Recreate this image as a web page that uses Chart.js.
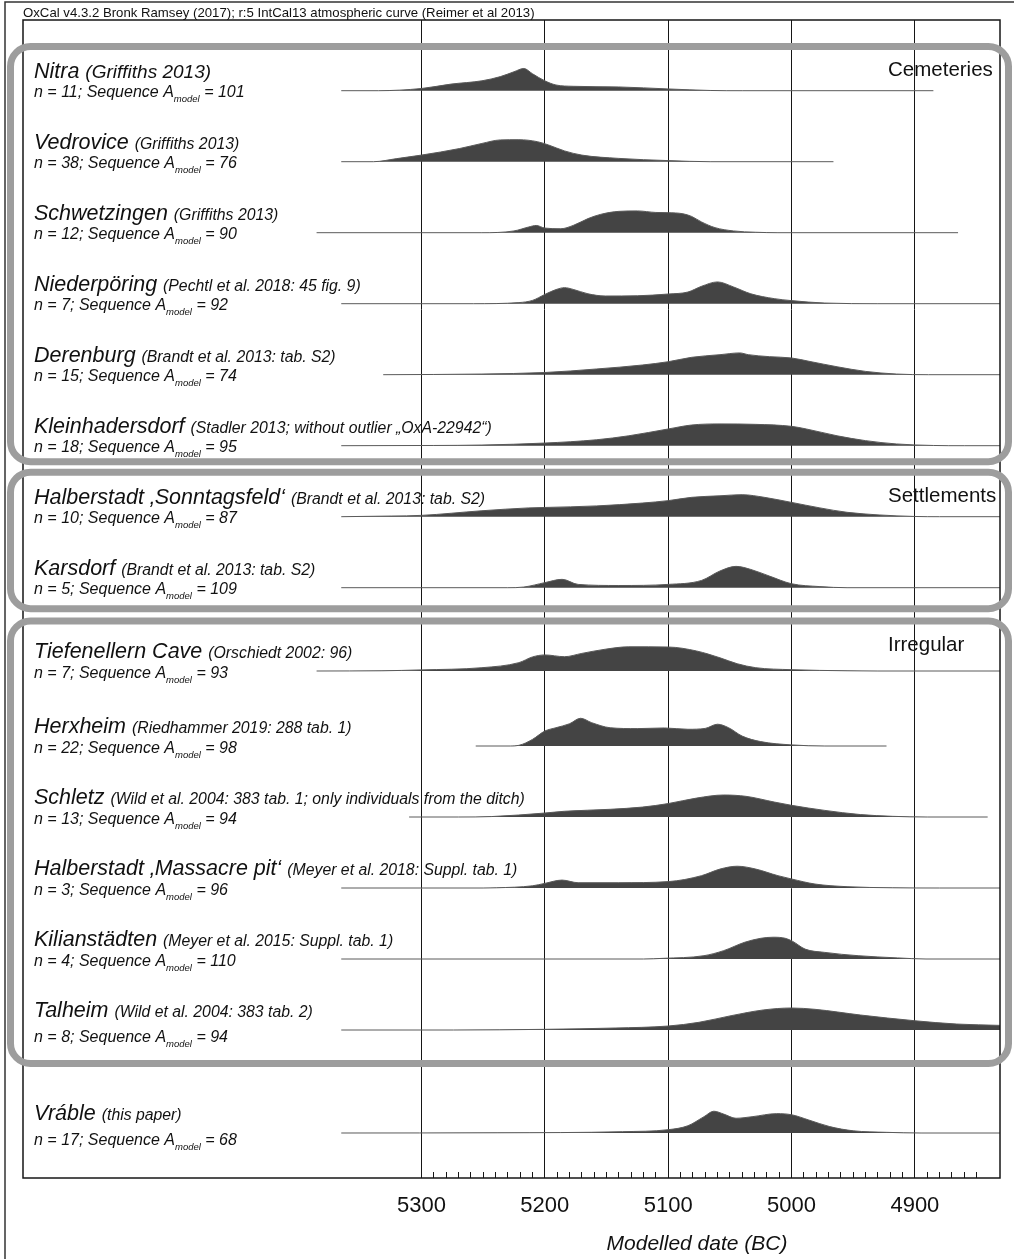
<!DOCTYPE html>
<html>
<head>
<meta charset="utf-8">
<title>Modelled dates (OxCal)</title>
<script src="https://cdn.jsdelivr.net/npm/chart.js@4.4.6/dist/chart.umd.min.js"></script>
<style>
  html, body { margin: 0; padding: 0; background: #fff; }
  #wrap { width: 1014px; height: 1259px; }
</style>
</head>
<body>
<div id="wrap"><canvas id="chart-oxcal" width="1014" height="1259"></canvas></div>
<script>
// OxCal-style stack of modelled date distributions, one band per site.

const FONT = 'Arial, "Liberation Sans", Helvetica, sans-serif';

// ============ data ============
const headerText = "OxCal v4.3.2 Bronk Ramsey (2017); r:5 IntCal13 atmospheric curve (Reimer et al 2013)";
const xAxisTitle = "Modelled date (BC)";
const tickYears = [5300, 5200, 5100, 5000, 4900];

const siteNames = [
  "Nitra", "Vedrovice", "Schwetzingen", "Niederpöring", "Derenburg", "Kleinhadersdorf",
  "Halberstadt ‚Sonntagsfeld‘", "Karsdorf",
  "Tiefenellern Cave", "Herxheim", "Schletz", "Halberstadt ‚Massacre pit‘", "Kilianstädten", "Talheim",
  "Vráble",
];
const siteRefs = [
  "(Griffiths 2013)", "(Griffiths 2013)", "(Griffiths 2013)", "(Pechtl et al. 2018: 45 fig. 9)",
  "(Brandt et al. 2013: tab. S2)", "(Stadler 2013; without outlier „OxA-22942“)",
  "(Brandt et al. 2013: tab. S2)", "(Brandt et al. 2013: tab. S2)",
  "(Orschiedt 2002: 96)", "(Riedhammer 2019: 288 tab. 1)",
  "(Wild et al. 2004: 383 tab. 1; only individuals from the ditch)",
  "(Meyer et al. 2018: Suppl. tab. 1)", "(Meyer et al. 2015: Suppl. tab. 1)",
  "(Wild et al. 2004: 383 tab. 2)", "(this paper)",
];
const siteN = [11, 38, 12, 7, 15, 18, 10, 5, 7, 22, 13, 3, 4, 8, 17];
const siteAmodel = [101, 76, 90, 92, 74, 95, 87, 109, 93, 98, 94, 96, 110, 94, 68];

const groupLabels = ["Cemeteries", "Settlements", "Irregular"];
const groupFirst = [0, 6, 8];
const groupLast = [5, 7, 13];

// [year BC, relative probability]
const nitra = [[5365,0],[5335,0],[5300,10],[5276,30],[5251,45],[5236,64],[5225,86],[5217,101],[5210,77],[5200,45],[5191,26],[5177,20],[5140,17],[5100,8],[5066,1],[5040,0],[4885,0]];
const vedrovice = [[5365,0],[5339,0],[5320,14],[5300,30],[5269,60],[5251,83],[5236,99],[5221,100],[5206,91],[5197,76],[5184,49],[5170,30],[5140,15],[5100,5],[5066,0],[4966,0]];
const schwetzingen = [[5385,0],[5251,0],[5225,8],[5213,26],[5207,33],[5200,21],[5187,18],[5177,33],[5165,64],[5155,83],[5140,97],[5125,99],[5110,92],[5100,91],[5088,86],[5081,74],[5073,49],[5062,23],[5047,8],[5029,2],[5011,0],[4865,0]];
const niederporing = [[5365,0],[5258,0],[5221,5],[5210,15],[5200,42],[5191,64],[5184,73],[5177,65],[5165,45],[5151,35],[5125,36],[5100,44],[5084,53],[5073,79],[5060,99],[5047,76],[5033,45],[5014,23],[5000,14],[4973,3],[4930,0],[4831,0]];
const derenburg = [[5331,0],[5290,1],[5251,3],[5200,10],[5158,26],[5121,44],[5100,59],[5081,79],[5058,91],[5042,99],[5035,91],[5018,82],[5000,76],[4985,60],[4963,36],[4940,15],[4915,3],[4889,0],[4831,0]];
const kleinhadersdorf = [[5365,0],[5290,1],[5251,3],[5200,12],[5158,27],[5132,45],[5100,76],[5081,94],[5058,99],[5029,97],[5000,88],[4988,76],[4963,45],[4940,23],[4915,8],[4885,1],[4860,0],[4831,0]];
const halberstadtSonntagsfeld = [[5365,0],[5324,3],[5300,6],[5251,27],[5213,40],[5200,42],[5158,49],[5121,62],[5100,73],[5081,88],[5058,95],[5040,100],[5022,88],[5000,65],[4977,40],[4955,20],[4929,8],[4900,1],[4880,0],[4831,0]];
const karsdorf = [[5365,0],[5230,0],[5217,3],[5200,23],[5186,38],[5173,15],[5140,10],[5100,15],[5073,33],[5058,76],[5045,97],[5033,83],[5018,53],[5000,18],[4977,5],[4955,0],[4831,0]];
const tiefenellern = [[5385,0],[5332,1],[5300,5],[5251,15],[5221,38],[5210,64],[5200,73],[5184,65],[5170,80],[5151,99],[5132,110],[5100,109],[5077,91],[5058,60],[5044,33],[5029,15],[5000,6],[4955,1],[4930,0],[4831,0]];
const herxheim = [[5256,0],[5228,0],[5221,3],[5210,30],[5200,68],[5191,83],[5180,101],[5171,126],[5162,106],[5147,83],[5125,79],[5103,82],[5084,76],[5070,80],[5060,99],[5051,83],[5040,45],[5025,20],[5000,5],[4973,0],[4923,0]];
const schletz = [[5310,0],[5270,0],[5243,2],[5200,18],[5184,26],[5147,35],[5121,45],[5100,61],[5077,86],[5055,100],[5037,94],[5014,68],[5000,53],[4973,30],[4944,11],[4918,3],[4890,0],[4841,0]];
const halberstadtMassacre = [[5365,0],[5250,0],[5239,1],[5210,10],[5200,21],[5186,36],[5173,24],[5140,24],[5100,29],[5073,56],[5058,86],[5044,99],[5029,86],[5011,56],[5000,41],[4981,18],[4955,6],[4918,1],[4880,0],[4831,0]];
const kilianstadten = [[5365,0],[5120,0],[5104,3],[5071,15],[5055,38],[5038,76],[5025,94],[5015,99],[5005,94],[4999,80],[4989,45],[4973,30],[4946,15],[4914,5],[4891,0],[4831,0]];
const talheim = [[5365,0],[5274,0],[5200,3],[5143,9],[5100,18],[5075,35],[5049,65],[5023,91],[5000,100],[4981,94],[4944,68],[4900,42],[4866,27],[4831,21]];
const vrable = [[5365,0],[5238,1],[5137,6],[5100,15],[5084,33],[5071,74],[5063,99],[5055,86],[5045,67],[5032,74],[5012,88],[5000,83],[4986,59],[4969,29],[4950,10],[4923,3],[4895,0],[4831,0]];

const siteCurves = [
  nitra, vedrovice, schwetzingen, niederporing, derenburg, kleinhadersdorf,
  halberstadtSonntagsfeld, karsdorf,
  tiefenellern, herxheim, schletz, halberstadtMassacre, kilianstadten, talheim,
  vrable,
];

// ============ layout (px) ============
const DATE_MIN = 4831, DATE_MAX = 5623;
const ROW_H = [71, 71, 71, 71, 71, 71, 71, 71, 71, 75, 71, 71, 71, 71, 71];
const GAP_BEFORE = [10.7, 0, 0, 0, 0, 0, 0, 0, 12.3, 0, 0, 0, 0, 0, 32];
const GAP_END = 34;
const BASE_BELOW = 11;      // px under each baseline inside its band
const PX_PER_UNIT = 0.22;   // 100 units of probability ~ 22 px
const LINE2_DY = [6, 6, 6, 6, 6, 6, 6, 6, 7, 7, 7, 7, 7, 12, 12];
const REF_SIZE = [19, 15.8, 15.8, 15.8, 15.8, 15.8, 15.8, 15.8, 15.8, 15.8, 15.8, 15.8, 15.8, 15.8, 15.8];
const GROUP_PAD_TOP = [44.2, 44.5, 50];
const GROUP_PAD_BOTTOM = [16, 21, 33.5];

// stacked band scales, top to bottom
const bands = [];
siteNames.forEach((_, i) => {
  if (GAP_BEFORE[i]) bands.push({ id: `gap${i}`, h: GAP_BEFORE[i] });
  bands.push({ id: `row${i}`, h: ROW_H[i], row: true });
});
bands.push({ id: "gapEnd", h: GAP_END });

const scales = {
  x: {
    type: "linear",
    position: "bottom",
    reverse: true,
    min: DATE_MIN,
    max: DATE_MAX,
    afterFit: s => { s.height = 81; },
    border: { display: false },
    grid: {
      color: c => tickYears.includes(Math.round(c.tick.value)) ? "#161616" : "rgba(0,0,0,0)",
      tickColor: c => {
        const v = Math.round(c.tick.value);
        return v <= 5300 && v % 10 === 0 ? "#161616" : "rgba(0,0,0,0)";
      },
      lineWidth: 1,
      tickLength: -6,
      tickWidth: 1,
    },
    ticks: {
      stepSize: 10,
      autoSkip: false,
      maxRotation: 0,
      minRotation: 0,
      padding: 14,
      color: "#111",
      font: { family: FONT, size: 22, lineHeight: 1.85 },
      callback: v => tickYears.includes(Math.round(v)) ? String(Math.round(v)) : "",
    },
  },
};
bands.forEach((b, k) => {
  scales[b.id] = {
    type: "linear",
    position: "left",
    display: false,
    stack: "rows",
    stackWeight: b.h,
    weight: bands.length - k,
    min: b.row ? -BASE_BELOW / PX_PER_UNIT : 0,
    max: b.row ? (b.h - BASE_BELOW) / PX_PER_UNIT : 1,
  };
});

const datasets = siteCurves.map((curve, i) => ({
  label: siteNames[i],
  data: curve,
  xAxisID: "x",
  yAxisID: `row${i}`,
  fill: "origin",
  backgroundColor: "#444444",
  borderColor: "#5a5a5a",
  borderWidth: 1,
  pointRadius: 0,
  cubicInterpolationMode: "monotone",
}));

// ============ helpers ============
function baseline(chart, i) {
  return chart.scales[`row${i}`].getPixelForValue(0);
}

function roundRect(ctx, x, y, w, h, r) {
  ctx.beginPath();
  ctx.moveTo(x + r, y);
  ctx.arcTo(x + w, y, x + w, y + h, r);
  ctx.arcTo(x + w, y + h, x, y + h, r);
  ctx.arcTo(x, y + h, x, y, r);
  ctx.arcTo(x, y, x + w, y, r);
  ctx.closePath();
}

const decor = {
  id: "decor",
  beforeDraw(chart) {
    const { ctx, width, height } = chart;
    ctx.save();
    ctx.fillStyle = "#fff";
    ctx.fillRect(0, 0, width, height);

    // outer frame (left + top)
    ctx.strokeStyle = "#333";
    ctx.lineWidth = 1.5;
    ctx.beginPath();
    ctx.moveTo(5, height);
    ctx.lineTo(5, 2);
    ctx.lineTo(width, 2);
    ctx.stroke();

    ctx.fillStyle = "#111";
    ctx.textAlign = "left";
    ctx.textBaseline = "alphabetic";
    ctx.font = `13.2px ${FONT}`;
    ctx.fillText(headerText, 23, 17);

    // row labels
    siteNames.forEach((name, i) => {
      const y = baseline(chart, i);
      let x = 34;
      ctx.font = `italic 21.5px ${FONT}`;
      ctx.fillText(name + " ", x, y - 13);
      x += ctx.measureText(name + " ").width;
      ctx.font = `italic ${REF_SIZE[i]}px ${FONT}`;
      ctx.fillText(siteRefs[i], x, y - 13);

      const y2 = y + LINE2_DY[i];
      x = 34;
      ctx.font = `italic 16px ${FONT}`;
      const a = `n = ${siteN[i]}; Sequence A`;
      ctx.fillText(a, x, y2);
      x += ctx.measureText(a).width;
      ctx.font = `italic 9.5px ${FONT}`;
      ctx.fillText("model", x, y2 + 5);
      x += ctx.measureText("model").width;
      ctx.font = `italic 16px ${FONT}`;
      ctx.fillText(` = ${siteAmodel[i]}`, x, y2);
    });

    // group labels
    ctx.font = `20.5px ${FONT}`;
    groupLabels.forEach((g, k) => {
      const top = baseline(chart, groupFirst[k]) - GROUP_PAD_TOP[k];
      ctx.fillText(g, 888, top + 29.5);
    });

    // axis title
    ctx.textAlign = "center";
    ctx.font = `italic 21px ${FONT}`;
    ctx.fillText(xAxisTitle, 697, 1250);
    ctx.restore();
  },
  afterDraw(chart) {
    const { ctx, chartArea: a } = chart;
    ctx.save();
    ctx.strokeStyle = "#161616";
    ctx.lineWidth = 1.5;
    ctx.strokeRect(a.left, a.top, a.right - a.left, a.bottom - a.top);

    ctx.strokeStyle = "#9d9d9d";
    ctx.lineWidth = 7;
    groupLabels.forEach((_, k) => {
      const top = baseline(chart, groupFirst[k]) - GROUP_PAD_TOP[k];
      const bottom = baseline(chart, groupLast[k]) + GROUP_PAD_BOTTOM[k];
      roundRect(ctx, 10.5, top, 998, bottom - top, 20);
      ctx.stroke();
    });
    ctx.restore();
  },
};

new Chart(document.getElementById("chart-oxcal"), {
  type: "line",
  data: { datasets },
  options: {
    responsive: false,
    devicePixelRatio: 1,
    animation: false,
    events: [],
    layout: { padding: { top: 20, left: 23, right: 14, bottom: 0 } },
    scales,
    plugins: {
      legend: { display: false },
      tooltip: { enabled: false },
    },
  },
  plugins: [decor],
});
</script>
</body>
</html>
